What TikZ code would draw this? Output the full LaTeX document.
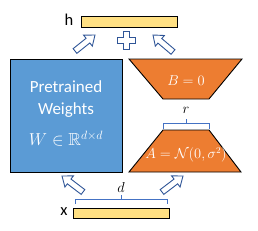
\documentclass[tikz,border=0pt]{standalone}
\usepackage{fontspec}
\usepackage{amssymb}
\setmainfont{Carlito}
\usetikzlibrary{calc}
\definecolor{wblue}{HTML}{5B9BD5}
\definecolor{lorange}{HTML}{ED7D31}
\definecolor{barfill}{HTML}{FFE083}
\definecolor{arrline}{HTML}{2F5597}
\definecolor{brline}{HTML}{4472C4}
\tikzset{
  bar/.style={draw=black, line width=0.9pt, fill=barfill},
  blockbox/.style={draw=black, line width=0.9pt},
  hollowarrow/.style={draw=arrline, line width=0.9pt, fill=white, line join=miter},
  bracket/.style={draw=brline, line width=0.9pt},
  lbl/.style={font=\fontsize{16.5}{18}\selectfont, text=black},
  intext/.style={text=white, align=center},
}
\newcommand\lorarrow[2]{%
  \path[hollowarrow]
    ($(#1)!3pt!90:(#2)$) --
    ($($(#2)!9pt!(#1)$)!3pt!90:(#2)$) --
    ($($(#2)!9pt!(#1)$)!7pt!90:(#2)$) --
    (#2) --
    ($($(#2)!9pt!(#1)$)!7pt!-90:(#2)$) --
    ($($(#2)!9pt!(#1)$)!3pt!-90:(#2)$) --
    ($(#1)!3pt!-90:(#2)$) -- cycle;}
\begin{document}
\begin{tikzpicture}[x=1pt,y=-1pt]
\useasboundingbox (0,0) rectangle (258,231);
% top bar h
\draw[bar] (81,16) rectangle (177,27);
\node[lbl] (hl) at (69,20) {h};
% bottom bar x
\draw[bar] (73,208) rectangle (169,218);
\node[lbl] (xl) at (64,212) {x};
% blue box
\draw[blockbox, fill=wblue] (10,59) rectangle (122,172);
\node[intext, font=\fontsize{17}{22}\selectfont] (pw) at (66,99) {Pretrained\\Weights};
\node[text=white, font=\fontsize{17.5}{20}\selectfont] (wm) at (66,139) {$W \in \mathbb{R}^{d\times d}$};
% trapezoid B
\draw[blockbox, fill=lorange] (129,59) -- (242,59) -- (209,99) -- (163,99) -- cycle;
\node[text=white, font=\fontsize{15}{17}\selectfont] (bl) at (186,81) {$B = 0$};
% trapezoid A
\draw[blockbox, fill=lorange] (163,130) -- (209,130) -- (241,172) -- (129,172) -- cycle;
\node[text=white, font=\fontsize{13.5}{16}\selectfont] (al) at (186,155) {$A = \mathcal{N}(0,\sigma^2)$};
% r bracket
\draw[bracket] (163,129) -- (163,123) -- (209,123) -- (209,129);
\draw[bracket] (186,123) -- (186,119);
\node[font=\fontsize{15}{17}\selectfont] (rl) at (186,110) {$r$};
% d bracket
\draw[bracket] (75,204) -- (75,199) -- (167,199) -- (167,204);
\draw[bracket] (121,199) -- (121,195);
\node[font=\fontsize{15}{17}\selectfont] (dl) at (121,187) {$d$};
% arrows
\coordinate (t1) at (75,51); \coordinate (p1) at (95,35);
\coordinate (t2) at (173,52); \coordinate (p2) at (153,35);
\coordinate (t3) at (83,192); \coordinate (p3) at (62,176);
\coordinate (t4) at (162,192); \coordinate (p4) at (183,176);
\lorarrow{t1}{p1}
\lorarrow{t2}{p2}
\lorarrow{t3}{p3}
\lorarrow{t4}{p4}
% plus
\path[hollowarrow] (123.5,31) -- (129.5,31) -- (129.5,37) -- (135.5,37) -- (135.5,43) -- (129.5,43) -- (129.5,49) -- (123.5,49) -- (123.5,43) -- (117.5,43) -- (117.5,37) -- (123.5,37) -- cycle;
\end{tikzpicture}
\end{document}
